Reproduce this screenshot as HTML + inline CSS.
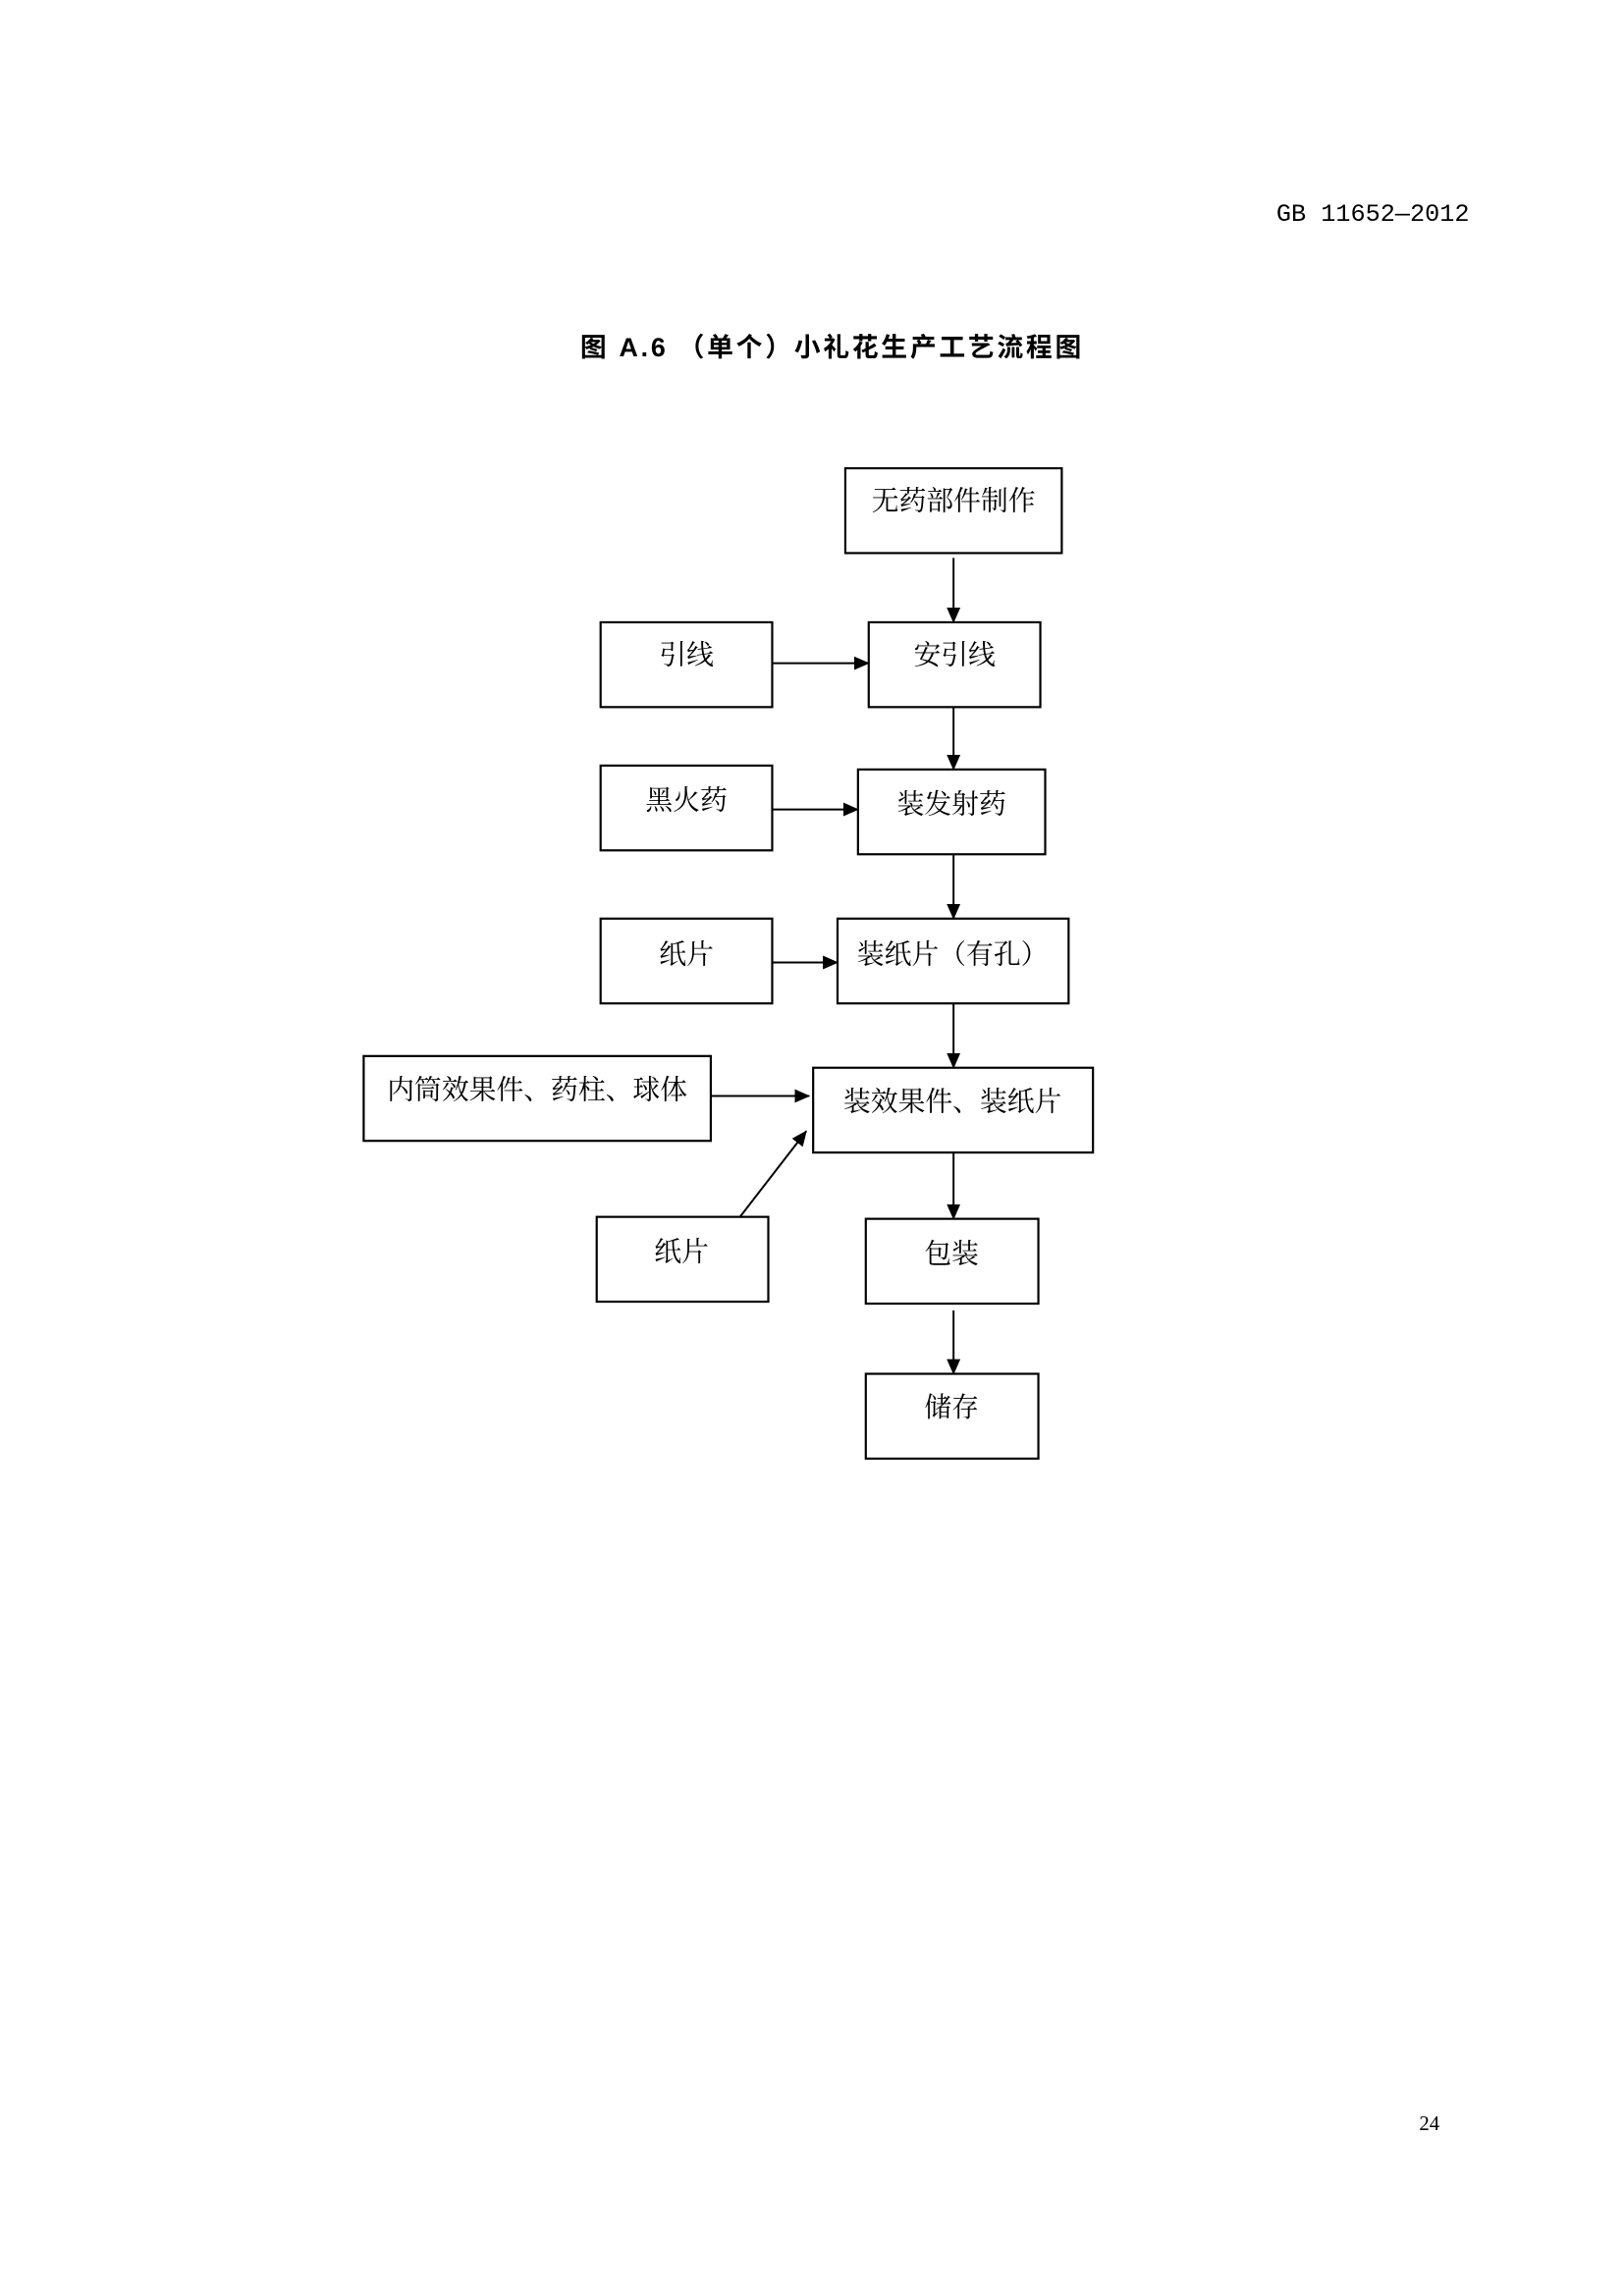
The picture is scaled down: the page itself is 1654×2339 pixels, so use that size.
<!DOCTYPE html>
<html><head><meta charset="utf-8"><style>
html,body{margin:0;padding:0;background:#fff}
body{width:1654px;height:2339px;position:relative;overflow:hidden}
</style></head><body>
<svg width="1654" height="2339" xmlns="http://www.w3.org/2000/svg" style="position:absolute;left:0;top:0">
<defs>
<marker id="b" markerWidth="16" markerHeight="16" refX="15" refY="8" orient="auto" markerUnits="userSpaceOnUse"><path d="M0,1 L16,8 L0,15 z" fill="#000"/></marker></defs>
<g transform="translate(1,0.4) scale(0.993)">
<text x="1308" y="226" font-family="'Liberation Mono','Noto Sans CJK SC',monospace" font-size="25" textLength="198" lengthAdjust="spacingAndGlyphs">GB 11652—2012</text>
<text x="594" y="365" font-family="'Liberation Sans','Noto Sans CJK SC',sans-serif" font-size="27" font-weight="bold" textLength="514" lengthAdjust="spacing">图 A.6  （单个）小礼花生产工艺流程图</text>
<g fill="none" stroke="#000" stroke-width="2.2">
<rect x="866" y="480" width="222" height="87"/>
<rect x="615" y="638" width="176" height="87"/>
<rect x="890" y="638" width="176" height="87"/>
<rect x="615" y="785" width="176" height="87"/>
<rect x="879" y="789" width="192" height="87"/>
<rect x="615" y="942" width="176" height="87"/>
<rect x="858" y="942" width="237" height="87"/>
<rect x="372" y="1083" width="356" height="87"/>
<rect x="833" y="1095" width="287" height="87"/>
<rect x="611" y="1248" width="176" height="87"/>
<rect x="887" y="1250" width="177" height="87"/>
<rect x="887" y="1409" width="177" height="87"/>
</g>
<g stroke="#000" stroke-width="2" marker-end="url(#b)">
<line x1="977" y1="572" x2="977" y2="638"/>
<line x1="977" y1="725" x2="977" y2="789"/>
<line x1="977" y1="876" x2="977" y2="942"/>
<line x1="977" y1="1029" x2="977" y2="1095"/>
<line x1="977" y1="1182" x2="977" y2="1250"/>
<line x1="977" y1="1344" x2="977" y2="1409"/>
<line x1="791" y1="680" x2="890" y2="680"/>
<line x1="791" y1="830" x2="879" y2="830"/>
<line x1="791" y1="987" x2="858" y2="987"/>
<line x1="728" y1="1124" x2="829" y2="1124"/>
<line x1="758" y1="1248" x2="826" y2="1160"/>
</g>
<g font-family="'Liberation Serif','Noto Serif CJK SC',serif" font-size="28" text-anchor="middle">
<text x="977" y="523">无药部件制作</text>
<text x="703" y="681">引线</text>
<text x="978" y="681">安引线</text>
<text x="703" y="830">黑火药</text>
<text x="975" y="834">装发射药</text>
<text x="703" y="988">纸片</text>
<text x="976" y="988">装纸片（有孔）</text>
<text x="550" y="1127">内筒效果件、药柱、球体</text>
<text x="976" y="1139">装效果件、装纸片</text>
<text x="698" y="1293">纸片</text>
<text x="975" y="1295">包装</text>
<text x="975" y="1453">储存</text>
<text x="1465" y="2185" font-size="21">24</text>
</g>
</g>
</svg>
</body></html>
